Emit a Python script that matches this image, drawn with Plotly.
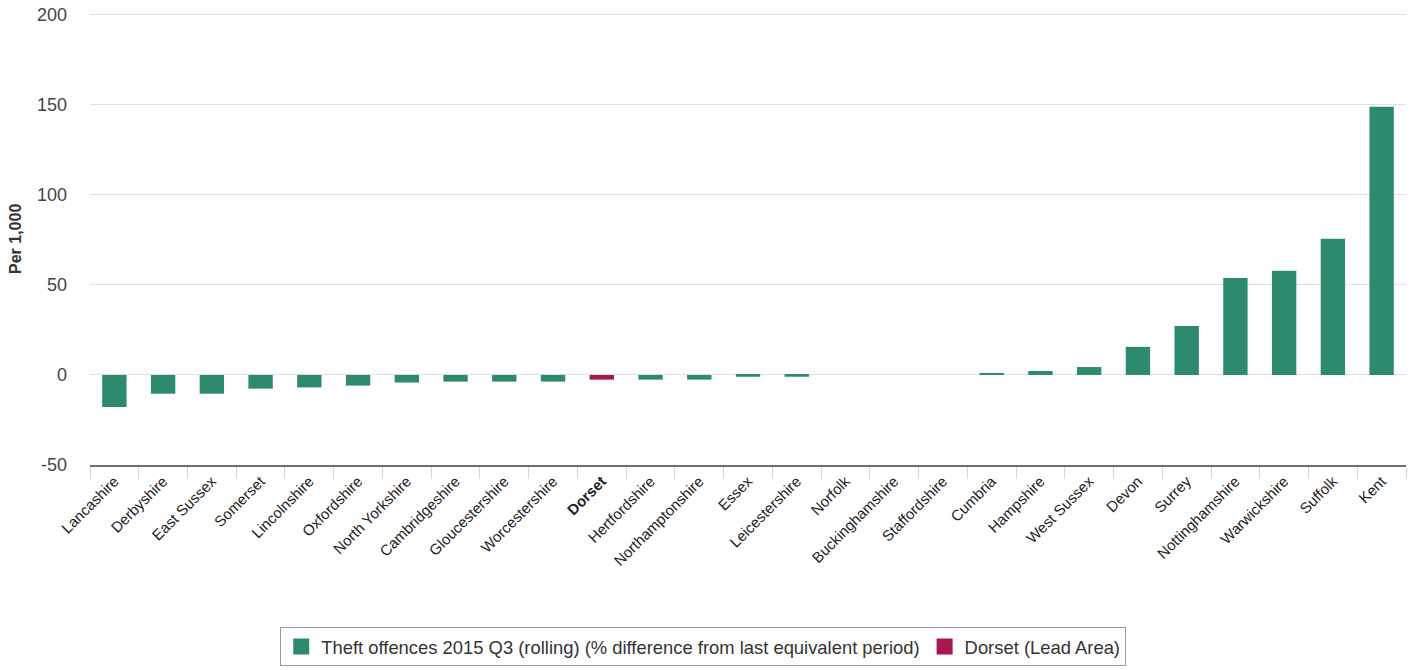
import plotly.graph_objects as go

categories = ["Lancashire", "Derbyshire", "East Sussex", "Somerset", "Lincolnshire",
              "Oxfordshire", "North Yorkshire", "Cambridgeshire", "Gloucestershire",
              "Worcestershire", "Dorset", "Hertfordshire", "Northamptonshire", "Essex",
              "Leicestershire", "Norfolk", "Buckinghamshire", "Staffordshire", "Cumbria",
              "Hampshire", "West Sussex", "Devon", "Surrey", "Nottinghamshire",
              "Warwickshire", "Suffolk", "Kent"]
values = [-17.8, -10.4, -10.4, -7.6, -6.9, -5.9, -4.2, -3.7, -3.7, -3.7, -2.6, -2.6,
          -2.6, -1.0, -1.0, 0, 0, 0, 1.1, 2.2, 4.4, 15.6, 27.2, 53.9, 57.8, 75.6, 148.9]
lead_area = "Dorset"
series_name = "Theft offences 2015 Q3 (rolling) (% difference from last equivalent period)"
lead_name = "Dorset (Lead Area)"
y_title = "Per 1,000"
y_ticks = [-50, 0, 50, 100, 150, 200]
y_tick_text = ["-50", "0", "50", "100", "150", "200"]

GREEN = "#2e8a6e"
MAGENTA = "#a8184f"

main_vals = [None if c == lead_area else v for c, v in zip(categories, values)]
lead_vals = [v if c == lead_area else None for c, v in zip(categories, values)]
tick_text = ["<b>%s</b>" % c if c == lead_area else c for c in categories]

fig = go.Figure()
fig.add_trace(go.Bar(x=categories, y=main_vals, name=series_name, showlegend=False,
                     marker=dict(color=GREEN, line=dict(width=0)), width=0.5))
fig.add_trace(go.Bar(x=categories, y=lead_vals, name=lead_name, showlegend=False,
                     marker=dict(color=MAGENTA, line=dict(width=0)), width=0.5))
# legend entries (larger square swatches)
fig.add_trace(go.Scatter(x=[None], y=[None], mode="markers", name=series_name,
                         marker=dict(symbol="square", size=16, color=GREEN)))
fig.add_trace(go.Scatter(x=[None], y=[None], mode="markers", name=lead_name,
                         marker=dict(symbol="square", size=16, color=MAGENTA)))

fig.update_layout(
    width=1417, height=670,
    margin=dict(l=90, r=11, t=13.2, b=205),
    paper_bgcolor="white", plot_bgcolor="white",
    barmode="relative",
    font=dict(family="Liberation Sans, Arial, sans-serif", color="#333333", size=15),
    showlegend=True,
    legend=dict(orientation="h", x=0.466, xanchor="center",
                yref="container", y=0.064, yanchor="top",
                bordercolor="#999999", borderwidth=1, bgcolor="white",
                font=dict(size=18.4, color="#333333"),
                traceorder="normal"),
    xaxis=dict(
        tickmode="array", tickvals=categories, ticktext=tick_text,
        tickangle=-45, tickfont=dict(size=15, color="#222222"),
        showline=True, linecolor="#707070", linewidth=1.5,
        ticks="outside", tickson="boundaries", ticklen=12, tickcolor="#ccd6eb",
        showgrid=False, zeroline=False, automargin=False,
    ),
    yaxis=dict(
        range=[-50, 201], tickmode="array", tickvals=y_ticks, ticktext=y_tick_text,
        tickfont=dict(size=18, color="#444444"), ticklabeloverflow="allow",
        showgrid=True, gridcolor="#e0e0e0", gridwidth=1,
        zeroline=True, zerolinecolor="#e0e0e0", zerolinewidth=1,
        ticks="", ticklabelstandoff=22, automargin=False,
    ),
    annotations=[dict(
        text="<b>%s</b>" % y_title, xref="paper", yref="paper",
        x=-0.057, y=0.5, xanchor="center", yanchor="middle", textangle=-90,
        showarrow=False, font=dict(size=16, color="#333333"),
    )],
)

fig.write_html(
    "out.html",
    config={"displayModeBar": False},
    post_script="document.body.style.margin='0px';document.body.style.overflow='hidden';",
)
